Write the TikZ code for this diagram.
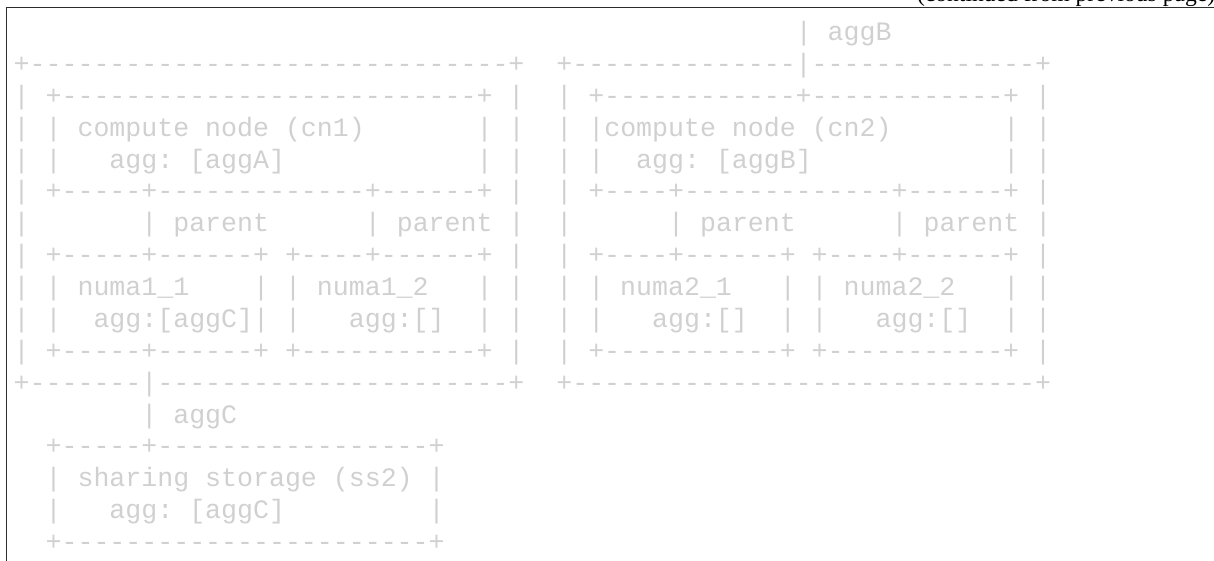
\documentclass[tikz,border=0pt]{standalone}
\usepackage{fontspec}
\setmainfont{Liberation Serif}
\setmonofont{Liberation Mono}
\ExplSyntaxOn
\cs_new:Npn \reprun #1#2 { \prg_replicate:nn {#1} {#2} }
\ExplSyntaxOff
% fixed-width runs of blanks and dashes for the ASCII drawing
\newcommand\blankrun[1]{\reprun{#1}{\ }}
\newcommand\dashrun[1]{\reprun{#1}{-}}
\definecolor{asciigray}{RGB}{208,208,208}
\definecolor{rulegray}{RGB}{45,45,45}
\tikzset{
  asciirow/.style={anchor=base west, inner sep=0pt, outer sep=0pt, text=asciigray,
    font=\ttfamily\fontsize{26.6}{31.9}\selectfont},
  contnote/.style={anchor=base west, inner sep=0pt, outer sep=0pt, text=black,
    font=\fontsize{23.6}{28}\selectfont},
  framerule/.style={draw=rulegray, line width=1.3pt}
}
\begin{document}
\begin{tikzpicture}[x=1pt,y=-1pt]
\useasboundingbox (0,0) rectangle (1214,561);
% frame of the code block
\coordinate (frameTL) at (6.7,7.3);
\coordinate (frameBL) at (6.7,575);
\coordinate (frameTR) at (1225,7.3);
\draw[framerule] (frameBL) -- (frameTL) -- (frameTR);
\node[contnote] (contd) at (917,1.5) {(continued from previous page)};
% rows of the ASCII diagram: column c sits at x = 13.7 + 15.96 c, row r at y = 40.6 + 31.875 r
\node[asciirow] (row0) at ({13.7+15.96*49},40.6) {| aggB};
\node[asciirow] (row1) at (13.7,{40.6+31.875*1}) {+\dashrun{30}+\blankrun{2}+\dashrun{14}|\dashrun{14}+};
\node[asciirow] (row2) at (13.7,{40.6+31.875*2}) {| +\dashrun{26}+ |\blankrun{2}| +\dashrun{12}+\dashrun{12}+ |};
\node[asciirow] (row3) at (13.7,{40.6+31.875*3}) {| | compute node (cn1)\blankrun{7}| |\blankrun{2}| |compute node (cn2)\blankrun{7}| |};
\node[asciirow] (row4) at (13.7,{40.6+31.875*4}) {| |\blankrun{3}agg: [aggA]\blankrun{12}| |\blankrun{2}| |\blankrun{2}agg: [aggB]\blankrun{12}| |};
\node[asciirow] (row5) at (13.7,{40.6+31.875*5}) {| +\dashrun{5}+\dashrun{13}+\dashrun{6}+ |\blankrun{2}| +\dashrun{4}+\dashrun{13}+\dashrun{6}+ |};
\node[asciirow] (row6) at (13.7,{40.6+31.875*6}) {|\blankrun{7}| parent\blankrun{6}| parent |\blankrun{2}|\blankrun{6}| parent\blankrun{6}| parent |};
\node[asciirow] (row7) at (13.7,{40.6+31.875*7}) {| +\dashrun{5}+\dashrun{6}+ +\dashrun{4}+\dashrun{6}+ |\blankrun{2}| +\dashrun{4}+\dashrun{6}+ +\dashrun{4}+\dashrun{6}+ |};
\node[asciirow] (row8) at (13.7,{40.6+31.875*8}) {| | numa1\_1\blankrun{4}| | numa1\_2\blankrun{3}| |\blankrun{2}| | numa2\_1\blankrun{3}| | numa2\_2\blankrun{3}| |};
\node[asciirow] (row9) at (13.7,{40.6+31.875*9}) {| |\blankrun{2}agg:[aggC]| |\blankrun{3}agg:[]\blankrun{2}| |\blankrun{2}| |\blankrun{3}agg:[]\blankrun{2}| |\blankrun{3}agg:[]\blankrun{2}| |};
\node[asciirow] (row10) at (13.7,{40.6+31.875*10}) {| +\dashrun{5}+\dashrun{6}+ +\dashrun{11}+ |\blankrun{2}| +\dashrun{11}+ +\dashrun{11}+ |};
\node[asciirow] (row11) at (13.7,{40.6+31.875*11}) {+\dashrun{7}|\dashrun{22}+\blankrun{2}+\dashrun{29}+};
\node[asciirow] (row12) at ({13.7+15.96*8},{40.6+31.875*12}) {| aggC};
\node[asciirow] (row13) at ({13.7+15.96*2},{40.6+31.875*13}) {+\dashrun{5}+\dashrun{17}+};
\node[asciirow] (row14) at ({13.7+15.96*2},{40.6+31.875*14}) {| sharing storage (ss2) |};
\node[asciirow] (row15) at ({13.7+15.96*2},{40.6+31.875*15}) {|\blankrun{3}agg: [aggC]\blankrun{9}|};
\node[asciirow] (row16) at ({13.7+15.96*2},{40.6+31.875*16}) {+\dashrun{23}+};
\end{tikzpicture}
\end{document}
